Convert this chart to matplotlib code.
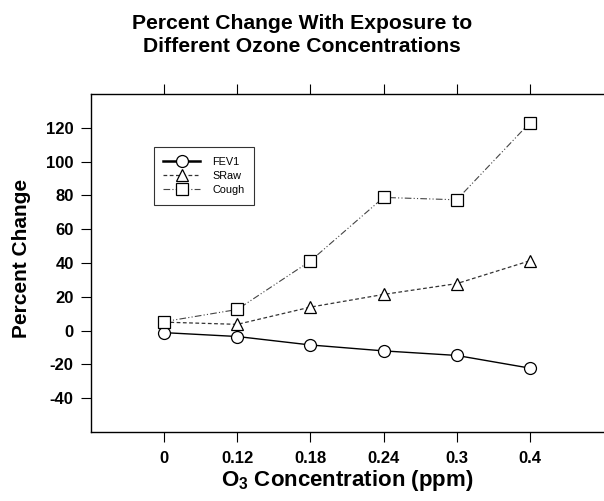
import matplotlib
matplotlib.use("Agg")
import matplotlib.pyplot as plt

concentrations = ["0", "0.12", "0.18", "0.24", "0.3", "0.4"]
fev1 = [-1.2, -3.5, -8.5, -12.0, -14.7, -22.2]
sraw = [5.0, 3.7, 13.9, 21.4, 27.8, 41.3]
cough = [5.3, 12.5, 41.2, 78.8, 77.4, 123.0]
y_ticks = [-40, -20, 0, 20, 40, 60, 80, 100, 120]

plt.rcParams['font.family'] = ['Liberation Sans', 'DejaVu Sans']
plt.rcParams['mathtext.fontset'] = 'custom'
plt.rcParams['mathtext.rm'] = 'Liberation Sans'
plt.rcParams['mathtext.bf'] = 'Liberation Sans:bold'

fig = plt.figure(figsize=(6.04, 5.01), dpi=100)
ax = fig.add_axes([91/604, 1 - 432/501, 512/604, 338/501])

x = list(range(len(concentrations)))
ms = 8.6
ax.plot(x, fev1, color='black', lw=1.0, ls='-', marker='o', ms=ms,
        mfc='white', mec='black', mew=0.9, label='FEV1', zorder=3)
ax.plot(x, sraw, color='#333333', lw=0.9, ls=(0, (3, 2)), marker='^', ms=ms + 0.5,
        mfc='white', mec='black', mew=0.9, label='SRaw', zorder=2)
ax.plot(x, cough, color='#444444', lw=0.8, ls=(0, (6, 2, 1, 2, 1, 2)), marker='s', ms=ms,
        mfc='white', mec='black', mew=0.9, label='Cough', zorder=4)

ax.set_xlim(-1, 6)
ax.set_ylim(-60, 140)
ax.set_xticks(x)
ax.set_xticklabels(concentrations, fontsize=12, fontweight='bold')
ax.set_yticks(y_ticks)
ax.set_yticklabels([str(v) for v in y_ticks], fontsize=12, fontweight='bold')
ax.tick_params(axis='x', which='both', direction='out', length=7.5, width=0.8,
               top=True, bottom=True, labeltop=False, pad=6)
ax.tick_params(axis='y', direction='out', length=7.5, width=0.8, pad=5)
for s in ['left', 'top', 'bottom']:
    ax.spines[s].set_linewidth(1.0)
ax.spines['right'].set_visible(False)

ax.set_ylabel('Percent Change', fontsize=15, fontweight='bold')
ax.yaxis.set_label_coords((31.5 - 91) / 512, (432 - 258.5) / 338)
ax.set_xlabel(r'O$_\mathbf{3}$ Concentration (ppm)', fontsize=16, fontweight='bold')
ax.xaxis.set_label_coords(0.5, -(468 - 432) / 338)

fig.text(0.5, 1 - 14 / 501, 'Percent Change With Exposure to\nDifferent Ozone Concentrations',
         ha='center', va='top', fontsize=15.2, fontweight='bold', linespacing=1.25)

leg = ax.legend(loc='upper left', bbox_to_anchor=((153.7 - 91) / 512, (432 - 147) / 338),
                borderaxespad=0, fontsize=7.8, frameon=True, fancybox=False, edgecolor='black',
                handlelength=3.4, handletextpad=1.1, labelspacing=0.38,
                borderpad=0.9, markerscale=1.0)
leg.get_frame().set_linewidth(0.8)
leg.get_lines()[0].set_linewidth(1.8)

fig.savefig('out.png', dpi=100)
